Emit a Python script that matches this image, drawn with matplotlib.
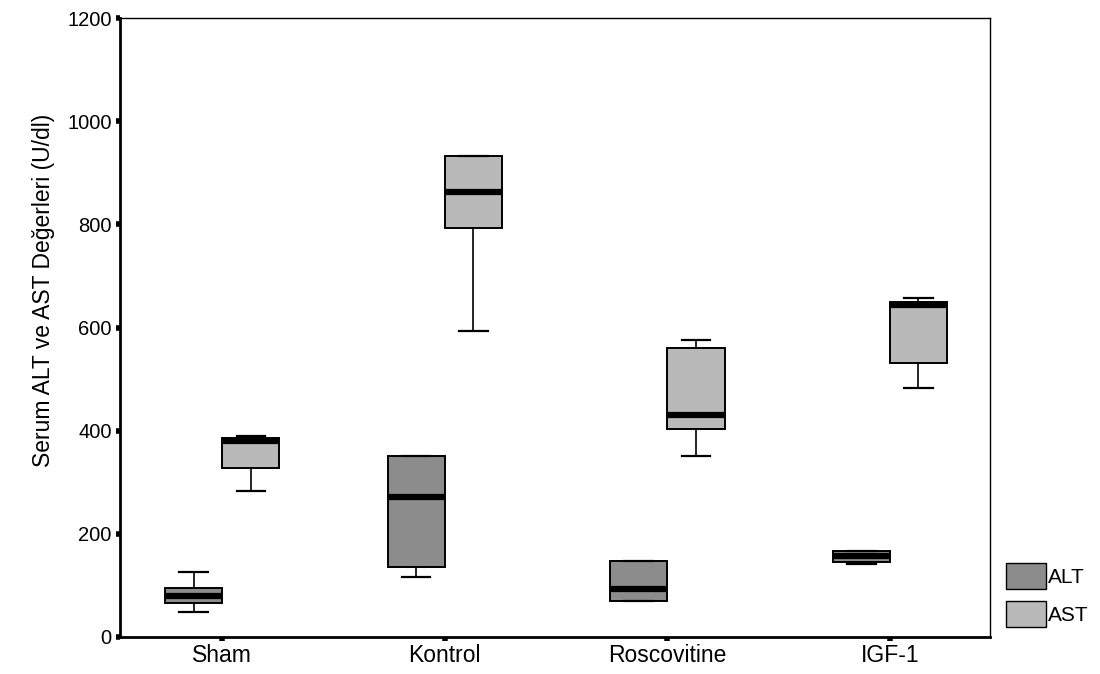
import numpy as np
import matplotlib.pyplot as plt
from matplotlib.patches import Patch

plt.rcParams['font.family'] = ['Liberation Sans', 'DejaVu Sans']

# groups and box statistics (U/dl)
groups = ["Sham", "Kontrol", "Roscovitine", "IGF-1"]

alt_whislo = [49, 117, 70, 142]
alt_q1 = [66, 136, 70, 145]
alt_med = [80, 272, 93, 157]
alt_q3 = [95, 351, 148, 167]
alt_whishi = [126, 351, 148, 167]

ast_whislo = [283, 594, 350, 483]
ast_q1 = [328, 794, 404, 532]
ast_med = [380, 862, 431, 643]
ast_q3 = [386, 932, 561, 650]
ast_whishi = [390, 932, 575, 658]

alt_color = "#8c8c8c"
ast_color = "#b9b9b9"


def make_stats(lo, q1, med, q3, hi):
    out = []
    for i in range(len(lo)):
        out.append(dict(whislo=lo[i], q1=q1[i], med=med[i], q3=q3[i],
                        whishi=hi[i], fliers=[]))
    return out


fig = plt.figure(figsize=(11, 6.74), dpi=100)
ax = fig.add_axes([0.109, 0.055, 0.791, 0.918])

x = np.arange(len(groups))
w = 0.257
off = w / 2

common = dict(widths=w, patch_artist=True, showfliers=False,
              medianprops=dict(color="black", linewidth=4.5, solid_capstyle="butt"),
              whiskerprops=dict(color="black", linewidth=1.2),
              capprops=dict(color="black", linewidth=1.6),
              boxprops=dict(edgecolor="black", linewidth=1.4),
              manage_ticks=False)

b1 = ax.bxp(make_stats(alt_whislo, alt_q1, alt_med, alt_q3, alt_whishi),
            positions=x - off, **common)
b2 = ax.bxp(make_stats(ast_whislo, ast_q1, ast_med, ast_q3, ast_whishi),
            positions=x + off, **common)
for p in b1["boxes"]:
    p.set_facecolor(alt_color)
for p in b2["boxes"]:
    p.set_facecolor(ast_color)

ax.set_xlim(-0.46, 3.45)
ax.set_ylim(0, 1200)
ax.set_xticks(x)
ax.set_xticklabels(groups)
ax.set_yticks(np.arange(0, 1201, 200))
ax.tick_params(axis="both", length=3, width=4, direction="out")
ax.tick_params(axis="y", labelsize=14.5, pad=3)
ax.tick_params(axis="x", labelsize=16.5, pad=2)
ax.set_ylabel("Serum ALT ve AST Değerleri (U/dl)", fontsize=16.5)
ax.yaxis.set_label_coords(-0.075, 0.56)

for s in ["left", "bottom"]:
    ax.spines[s].set_linewidth(2)
for s in ["top", "right"]:
    ax.spines[s].set_linewidth(1)

handles = [Patch(facecolor=alt_color, edgecolor="black", label="ALT"),
           Patch(facecolor=ast_color, edgecolor="black", label="AST")]
fig.legend(handles=handles, loc="lower left", bbox_to_anchor=(0.907, 0.058),
           frameon=False, fontsize=15, handlelength=1.9, handleheight=1.5,
           handletextpad=0.1, labelspacing=0.6, borderaxespad=0)

fig.savefig("out.png", dpi=100)
